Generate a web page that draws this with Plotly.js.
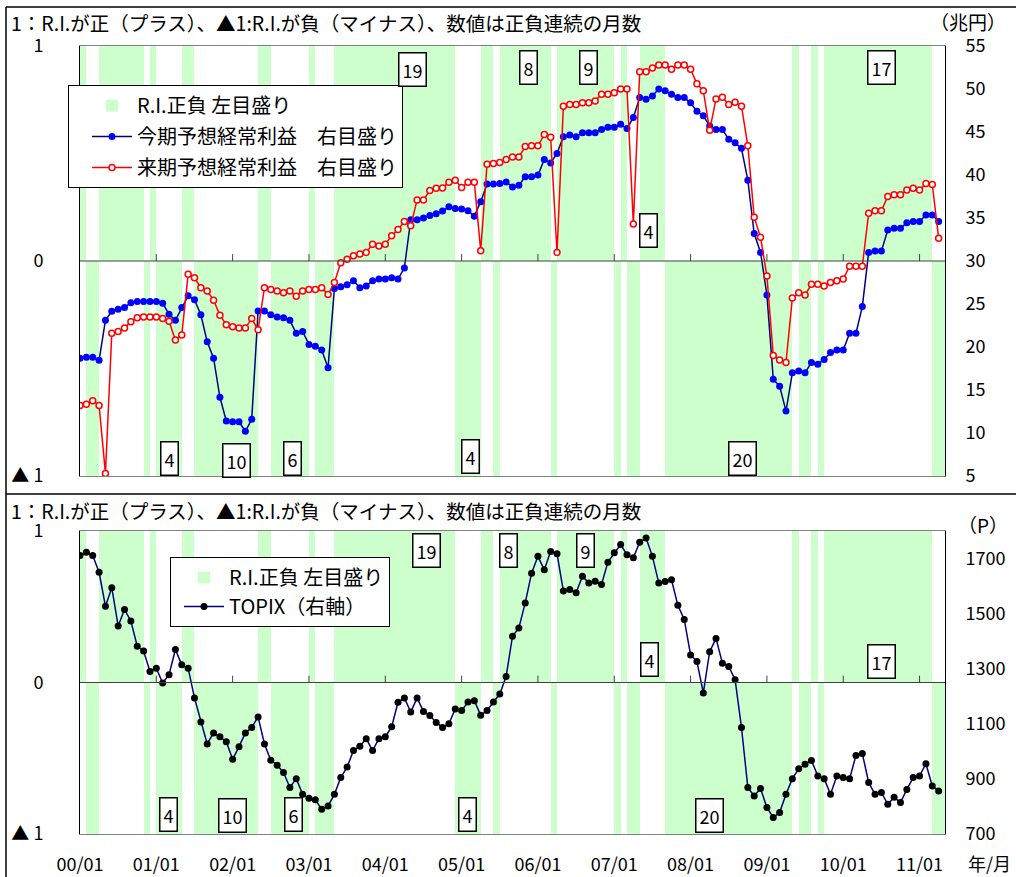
<!DOCTYPE html>
<html><head><meta charset="utf-8">
<script src="https://cdn.plot.ly/plotly-3.0.1.min.js"></script>
<style>html,body{margin:0;padding:0;background:#fff}#chart{width:1016px;height:877px}</style>
</head><body><div id="chart"></div>
<script>
// ---- data ----
const startYear = 2000;
const monthCount = 136; // 2000/01 - 2011/04
const monthLabels = [];
for (let i = 0; i < monthCount; i++) {
  const y = startYear + Math.floor(i / 12), m = (i % 12) + 1;
  monthLabels.push(String(y % 100).padStart(2, '0') + '/' + String(m).padStart(2, '0'));
}
const tickLabels = ['00/01','01/01','02/01','03/01','04/01','05/01','06/01','07/01','08/01','09/01','10/01','11/01'];

// R.I. sign: 1 = positive, -1 = negative
const riSign = [
  1,-1,-1,1,1,1,1,1,1,1,-1,1,
  -1,-1,-1,-1,1,1,-1,-1,-1,-1,-1,-1,
  -1,-1,-1,-1,1,1,-1,-1,-1,-1,-1,-1,
  1,-1,-1,-1,1,1,1,1,1,1,1,1,
  1,1,1,1,1,1,1,1,1,1,1,-1,
  -1,-1,-1,1,1,-1,1,1,1,1,1,1,
  1,1,-1,1,1,1,1,1,1,1,1,1,
  -1,1,-1,-1,1,1,1,1,-1,-1,-1,-1,
  -1,-1,-1,-1,-1,-1,-1,-1,-1,-1,-1,-1,
  -1,-1,-1,-1,1,-1,-1,1,-1,1,1,1,
  1,1,1,1,1,1,1,1,1,1,1,1,
  1,1,-1,-1
];

// 今期予想経常利益 (兆円)
const profitCurrent = [
  18.7,18.8,18.8,18.45,23.1,24.15,24.4,24.6,25.15,25.3,25.3,25.3,
  25.3,25.1,23.8,23.1,24.6,25.96,25.5,23.75,20.6,18.7,14.15,11.4,
  11.3,11.3,10.2,11.6,24.2,24.2,23.75,23.5,23.4,23.1,21.6,21.8,
  20.3,20.1,19.65,17.6,26.8,27.0,27.25,27.7,26.9,27.1,27.7,27.9,
  27.9,28.05,27.9,29.2,34.8,34.8,35.0,35.3,35.5,35.8,36.3,36.1,
  36.05,35.85,35.2,36.9,38.95,38.95,39.0,39.2,38.6,38.8,39.8,39.8,
  40.0,41.8,41.4,42.5,44.45,44.65,44.45,44.9,44.9,44.9,45.3,45.55,
  45.55,45.9,45.4,46.7,49.0,48.8,49.2,50.0,49.8,49.4,49.0,49.0,
  48.4,47.4,46.9,45.7,45.3,45.3,44.15,43.75,43.1,39.4,33.2,31.0,
  26.05,16.25,15.45,12.55,17.0,17.2,17.0,18.2,18.0,18.55,19.35,19.65,
  19.65,21.6,21.6,24.7,31.0,31.15,31.15,33.6,33.8,33.8,34.45,34.6,
  34.6,35.35,35.35,34.6
];

// 来期予想経常利益 (兆円)
const profitNext = [
  13.2,13.35,13.75,13.2,5.3,21.6,21.8,22.2,22.95,23.4,23.5,23.5,
  23.5,23.3,23.0,20.8,21.4,28.45,28.05,26.9,26.5,25.45,23.7,22.6,
  22.35,22.2,22.2,23.3,22.0,26.9,26.7,26.5,26.3,26.5,25.9,26.5,
  26.7,26.7,26.9,26.1,27.5,29.8,30.2,30.6,30.8,31.0,31.95,31.75,
  31.95,32.95,33.65,34.6,34.1,37.1,37.1,38.2,38.45,38.5,39.15,39.4,
  38.55,39.15,39.15,31.2,41.25,41.35,41.45,41.8,42.1,42.1,43.3,43.4,
  43.4,44.7,44.4,31.0,48.0,48.2,48.2,48.4,48.4,48.6,49.4,49.4,
  49.55,50.0,50.0,34.3,52.0,52.0,52.45,52.8,52.8,52.3,52.8,52.8,
  52.3,50.6,49.8,45.2,48.85,49.05,48.2,48.45,48.0,43.4,35.1,32.75,
  28.25,19.0,18.5,18.2,25.7,26.3,26.05,27.3,27.3,27.1,27.5,27.7,
  27.9,29.4,29.4,29.4,35.55,35.85,35.85,37.5,37.7,37.7,38.25,38.45,
  38.25,39.0,38.9,32.65
];

// TOPIX (P)
const topix = [
  1711,1723,1711,1650,1527,1594,1455,1515,1473,1382,1364,1290,
  1302,1248,1278,1370,1314,1302,1194,1107,1027,1067,1053,1035,
  971,1017,1067,1087,1125,1027,968,950,923,869,901,844,
  830,824,790,802,844,905,943,1003,1019,1046,1003,1046,
  1053,1089,1178,1194,1143,1194,1145,1130,1105,1087,1100,1154,
  1148,1179,1184,1131,1148,1179,1208,1272,1418,1448,1539,1647,
  1708,1659,1726,1717,1582,1588,1576,1636,1611,1618,1606,1687,
  1721,1751,1714,1703,1759,1775,1708,1611,1617,1623,1530,1479,
  1350,1326,1212,1362,1410,1320,1308,1260,1087,869,838,865,
  796,760,778,844,901,937,953,967,911,901,844,911,
  905,901,985,992,887,844,851,808,833,814,862,905,
  911,955,874,856
];

// ---- derived ----
const xi = monthLabels.map((_, i) => i);
const tickVals = monthLabels.map((l, i) => l.endsWith('/01') ? i : null).filter(v => v !== null);

const FONT = 'Noto Sans CJK JP, Noto Sans, sans-serif';
const W = 1016, H = 877;
const px = v => v / W, py = v => 1 - v / H;
const GREEN = '#CCFFCC';

const traces = [
  {type:'bar', x:xi, y:riSign, xaxis:'x', yaxis:'y', width:1, offset:0,
   marker:{color:GREEN, line:{width:0}}, name:'R.I.正負 左目盛り', legend:'legend', legendgroup:'a', hoverinfo:'skip'},
  {type:'scatter', mode:'lines+markers', x:xi, y:profitCurrent, xaxis:'x', yaxis:'y2',
   line:{color:'#000080', width:1.5}, marker:{color:'#0000FF', size:7, symbol:'circle'},
   name:'今期予想経常利益　右目盛り', legend:'legend', legendgroup:'b'},
  {type:'scatter', mode:'lines+markers', x:xi, y:profitNext, xaxis:'x', yaxis:'y2',
   line:{color:'#FF0000', width:1.5}, marker:{color:'#FFFFFF', size:6, symbol:'circle', line:{color:'#FF0000', width:1.5}},
   name:'来期予想経常利益　右目盛り', legend:'legend', legendgroup:'c'},
  {type:'bar', x:xi, y:riSign, xaxis:'x2', yaxis:'y3', width:1, offset:0,
   marker:{color:GREEN, line:{width:0}}, name:'R.I.正負 左目盛り', legend:'legend2', legendgroup:'d', hoverinfo:'skip'},
  {type:'scatter', mode:'lines+markers', x:xi, y:topix, xaxis:'x2', yaxis:'y4',
   line:{color:'#000080', width:1.5}, marker:{color:'#000000', size:7, symbol:'circle'},
   name:'TOPIX（右軸）', legend:'legend2', legendgroup:'e'}
];

const xDom = [px(80), px(945)];
const topDom = [py(476), py(46)];
const botDom = [py(834), py(531)];
const tf = {family:FONT, size:18, color:'#000'};

const leftAxis = (dom, anchor) => ({domain:dom, anchor:anchor, range:[-1,1], tickvals:[-1,0,1], ticktext:['▲ 1','0','1'],
  showgrid:false, zeroline:false, showline:true, linecolor:'#000', linewidth:1, ticks:'', tickfont:tf, ticklabelstandoff:32, fixedrange:true});

const legendFont = {family:FONT, size:20, color:'#000'};
const layout = {
  width:W, height:H, margin:{l:0,r:0,t:0,b:0}, paper_bgcolor:'#fff', plot_bgcolor:'#fff',
  font:{family:FONT, color:'#000'}, bargap:0, barmode:'overlay',
  xaxis:{domain:xDom, anchor:'y', range:[0,monthCount], showgrid:false, zeroline:false, showline:true,
    linecolor:'#808080', linewidth:1, mirror:true, showticklabels:false, ticks:'', fixedrange:true},
  yaxis:leftAxis(topDom, 'x'),
  yaxis2:{overlaying:'y', side:'right', anchor:'x', range:[5,55], tick0:5, dtick:5, showgrid:false, zeroline:false,
    showline:true, linecolor:'#000', linewidth:1, ticks:'', tickfont:tf, ticklabelstandoff:16, fixedrange:true},
  xaxis2:{domain:xDom, anchor:'y3', range:[0,monthCount], showgrid:false, zeroline:false, showline:true,
    linecolor:'#808080', linewidth:1, mirror:true, tickvals:tickVals, ticktext:tickLabels, ticks:'', tickfont:tf,
    ticklabelstandoff:14, fixedrange:true},
  yaxis3:leftAxis(botDom, 'x2'),
  yaxis4:{overlaying:'y3', side:'right', anchor:'x2', range:[700,1800], tickvals:[700,900,1100,1300,1500,1700],
    showgrid:false, zeroline:false, showline:true, linecolor:'#000', linewidth:1, ticks:'', tickfont:tf,
    ticklabelstandoff:16, fixedrange:true},
  legend:{x:px(68), y:py(85), xanchor:'left', yanchor:'top', bgcolor:'#fff', bordercolor:'#000', borderwidth:1,
    font:legendFont, traceorder:'grouped', tracegroupgap:2, indentation:18, itemwidth:40},
  legend2:{x:px(170), y:py(557), xanchor:'left', yanchor:'top', bgcolor:'#fff', bordercolor:'#000', borderwidth:1,
    font:legendFont, traceorder:'grouped', tracegroupgap:0, indentation:8, itemwidth:40},
  shapes:[], annotations:[]
};

// frame lines
const frame = [[6,7,W,7],[6,7,6,H],[6,494,W,494]];
frame.forEach(f => layout.shapes.push({type:'line', xref:'paper', yref:'paper', x0:px(f[0]), y0:py(f[1]), x1:px(f[2]), y1:py(f[3]),
  line:{color:'#000', width:1.5}}));

// zero lines and category ticks on them
[['x','y',0.032],['x2','y3',0.045]].forEach(([xr, yr, tl]) => {
  layout.shapes.push({type:'line', xref:xr, yref:yr, x0:0, x1:monthCount, y0:0, y1:0, line:{color:'#404040', width:1}, layer:'above'});
  tickVals.filter(v => v > 0).forEach(v => layout.shapes.push({type:'line', xref:xr, yref:yr, x0:v, x1:v, y0:0, y1:tl,
    line:{color:'#404040', width:1}, layer:'above'}));
});

// titles / units
const txt = (text, x, y, size, xa) => ({text:text, xref:'paper', yref:'paper', x:px(x), y:py(y), xanchor:xa||'left', yanchor:'middle',
  showarrow:false, font:{family:FONT, size:size, color:'#000'}});
const titleText = '1：R.I.が正（プラス）、▲1:R.I.が負（マイナス）、数値は正負連続の月数';
layout.annotations.push(txt(titleText, 9, 22, 19.5));
layout.annotations.push(txt(titleText, 9, 510, 19.5));
layout.annotations.push(txt('（兆円）', 928, 21, 19));
layout.annotations.push(txt('（P）', 956, 524, 19));
layout.annotations.push(txt('年/月', 966, 863, 18));

// run-length labels: run start month, [y, xshift] for top and bottom panels
const runOf = s => { let e = s; while (e + 1 < riSign.length && riSign[e + 1] === riSign[s]) e++; return e - s + 1; };
const labelRuns = [
  [12, [-0.92, 0], [-0.87, -1]],
  [18, [-0.93, 10], [-0.88, 6]],
  [30, [-0.92, 3], [-0.87, 4]],
  [40, [0.89, 18], [0.87, 32]],
  [59, [-0.91, 3], [-0.87, 0]],
  [66, [0.90, 3], [0.87, -17]],
  [75, [0.90, 3], [0.87, 0]],
  [88, [0.144, -4], [0.15, -3]],
  [92, [-0.92, 14], [-0.88, -19]],
  [117, [0.90, 3], [0.14, 3]]
];
labelRuns.forEach(([s, top, bot]) => {
  const n = runOf(s);
  [['x','y',top],['x2','y3',bot]].forEach(([xr, yr, p]) => layout.annotations.push({
    text:String(n), xref:xr, yref:yr, x:s + n / 2, y:p[0], xshift:p[1], showarrow:false,
    font:{family:FONT, size:18, color:'#000'}, bgcolor:'#fff', bordercolor:'#000', borderwidth:1.5, borderpad:3}));
});

Plotly.newPlot('chart', traces, layout, {displayModeBar:false, staticPlot:true});
</script></body></html>
